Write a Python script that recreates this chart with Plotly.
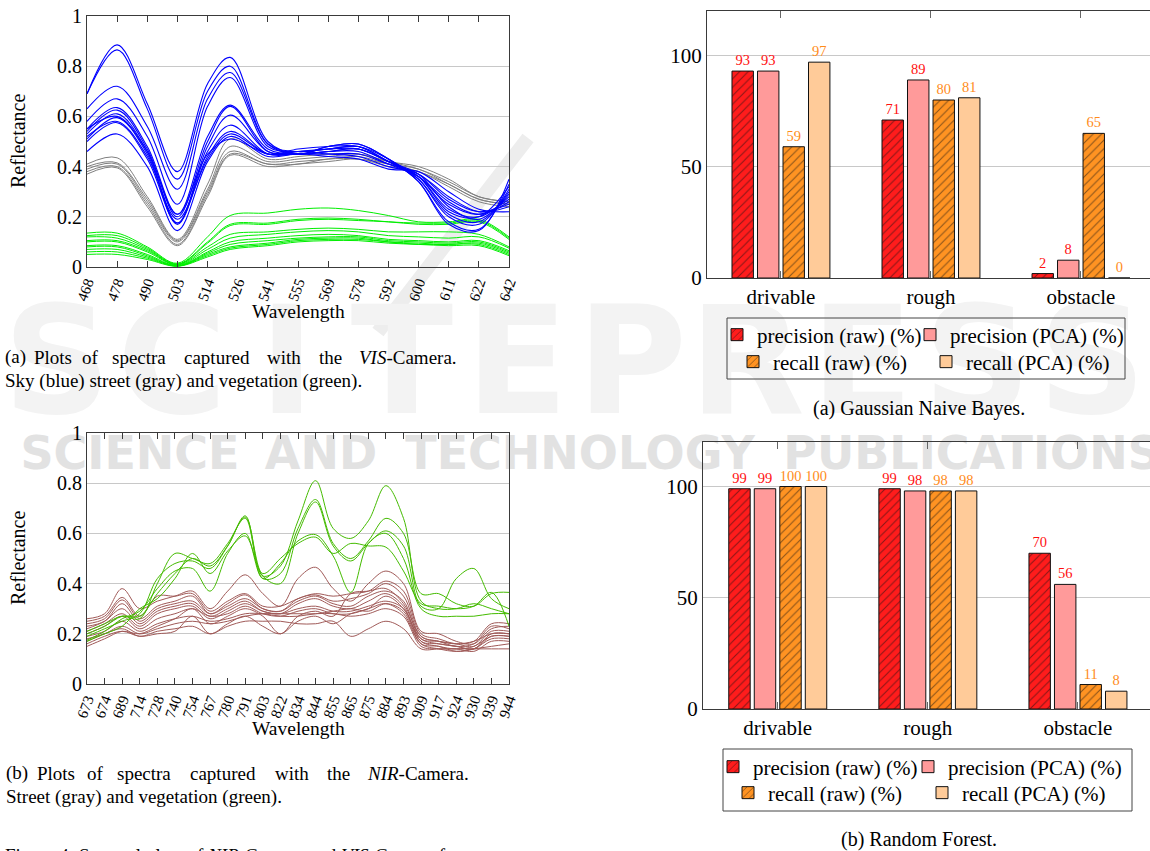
import plotly.graph_objects as go

FONT = "Liberation Serif, Times New Roman, serif"
W, H = 1150, 851

# ---------------- VIS camera spectra ----------------
VIS_TICKS = ["468", "478", "490", "503", "514", "526", "541", "555", "569",
             "578", "592", "600", "611", "622", "642"]
VIS_X = [0, 1, 2, 3, 4, 4.75, 6, 7, 8, 9, 10, 11, 12, 13, 14]

VIS_SKY = [
    [0.69, 0.885, 0.65, 0.38, 0.73, 0.835, 0.50, 0.45, 0.48, 0.49, 0.43, 0.34, 0.17, 0.145, 0.35],
    [0.69, 0.865, 0.63, 0.35, 0.70, 0.80, 0.49, 0.45, 0.48, 0.49, 0.43, 0.34, 0.18, 0.15, 0.33],
    [0.63, 0.72, 0.56, 0.31, 0.67, 0.775, 0.49, 0.46, 0.47, 0.48, 0.43, 0.35, 0.20, 0.17, 0.31],
    [0.58, 0.67, 0.52, 0.25, 0.64, 0.755, 0.48, 0.46, 0.47, 0.48, 0.42, 0.35, 0.21, 0.18, 0.30],
    [0.55, 0.635, 0.48, 0.21, 0.52, 0.645, 0.47, 0.45, 0.46, 0.47, 0.42, 0.36, 0.23, 0.20, 0.28],
    [0.54, 0.625, 0.47, 0.20, 0.50, 0.64, 0.46, 0.45, 0.46, 0.47, 0.42, 0.36, 0.25, 0.21, 0.27],
    [0.53, 0.61, 0.46, 0.175, 0.48, 0.605, 0.46, 0.45, 0.46, 0.46, 0.41, 0.36, 0.26, 0.21, 0.26],
    [0.51, 0.595, 0.45, 0.17, 0.46, 0.565, 0.45, 0.45, 0.45, 0.45, 0.41, 0.37, 0.27, 0.22, 0.25],
    [0.50, 0.575, 0.43, 0.175, 0.44, 0.54, 0.45, 0.46, 0.45, 0.44, 0.40, 0.37, 0.28, 0.22, 0.24],
    [0.46, 0.53, 0.40, 0.145, 0.42, 0.52, 0.44, 0.45, 0.44, 0.43, 0.39, 0.38, 0.30, 0.23, 0.22],
    [0.55, 0.60, 0.46, 0.21, 0.45, 0.51, 0.45, 0.46, 0.47, 0.47, 0.42, 0.37, 0.24, 0.19, 0.29],
    [0.52, 0.58, 0.44, 0.19, 0.43, 0.53, 0.45, 0.47, 0.48, 0.48, 0.42, 0.36, 0.22, 0.20, 0.32],
]
VIS_STREET = [
    [0.41, 0.435, 0.28, 0.11, 0.33, 0.51, 0.43, 0.44, 0.45, 0.45, 0.42, 0.40, 0.35, 0.28, 0.26],
    [0.40, 0.415, 0.27, 0.105, 0.31, 0.48, 0.42, 0.43, 0.44, 0.45, 0.42, 0.39, 0.34, 0.28, 0.26],
    [0.39, 0.41, 0.26, 0.10, 0.30, 0.46, 0.41, 0.42, 0.43, 0.44, 0.41, 0.39, 0.33, 0.27, 0.25],
    [0.38, 0.40, 0.25, 0.09, 0.29, 0.45, 0.41, 0.41, 0.43, 0.43, 0.41, 0.38, 0.33, 0.27, 0.25],
    [0.37, 0.395, 0.24, 0.085, 0.28, 0.445, 0.40, 0.41, 0.42, 0.43, 0.40, 0.38, 0.32, 0.26, 0.24],
]
VIS_VEG = [
    [0.135, 0.135, 0.08, 0.015, 0.12, 0.205, 0.215, 0.23, 0.235, 0.225, 0.205, 0.18, 0.18, 0.19, 0.12],
    [0.125, 0.125, 0.075, 0.012, 0.10, 0.17, 0.175, 0.19, 0.195, 0.19, 0.18, 0.175, 0.175, 0.185, 0.115],
    [0.12, 0.115, 0.07, 0.01, 0.095, 0.165, 0.17, 0.185, 0.19, 0.185, 0.18, 0.17, 0.17, 0.18, 0.11],
    [0.105, 0.105, 0.065, 0.01, 0.08, 0.13, 0.14, 0.15, 0.155, 0.15, 0.14, 0.14, 0.14, 0.13, 0.08],
    [0.10, 0.10, 0.06, 0.008, 0.07, 0.115, 0.13, 0.14, 0.145, 0.14, 0.125, 0.12, 0.115, 0.12, 0.075],
    [0.085, 0.085, 0.05, 0.006, 0.06, 0.10, 0.115, 0.125, 0.13, 0.125, 0.11, 0.105, 0.10, 0.105, 0.065],
    [0.08, 0.08, 0.045, 0.005, 0.055, 0.09, 0.105, 0.115, 0.12, 0.12, 0.105, 0.10, 0.095, 0.10, 0.06],
    [0.07, 0.07, 0.04, 0.004, 0.05, 0.08, 0.095, 0.11, 0.115, 0.115, 0.10, 0.095, 0.09, 0.095, 0.055],
    [0.06, 0.06, 0.035, 0.004, 0.045, 0.075, 0.09, 0.105, 0.11, 0.11, 0.10, 0.09, 0.09, 0.09, 0.05],
    [0.05, 0.05, 0.03, 0.003, 0.04, 0.07, 0.085, 0.10, 0.105, 0.105, 0.095, 0.09, 0.085, 0.085, 0.045],
]

# ---------------- NIR camera spectra ----------------
NIR_TICKS = ["673", "674", "689", "714", "728", "740", "754", "767", "780", "791",
             "803", "822", "834", "844", "855", "865", "875", "884", "893", "909",
             "917", "924", "930", "939", "944"]
NIR_X = list(range(25))

NIR_VEG = [
    [0.20, 0.23, 0.27, 0.27, 0.36, 0.44, 0.50, 0.47, 0.55, 0.67, 0.43, 0.47, 0.65, 0.81, 0.62,
     0.58, 0.65, 0.79, 0.66, 0.33, 0.30, 0.30, 0.32, 0.30, 0.28],
    [0.21, 0.24, 0.27, 0.26, 0.40, 0.52, 0.50, 0.48, 0.56, 0.66, 0.42, 0.44, 0.62, 0.735, 0.56,
     0.50, 0.57, 0.66, 0.60, 0.36, 0.36, 0.32, 0.31, 0.36, 0.365],
    [0.19, 0.22, 0.25, 0.28, 0.42, 0.48, 0.49, 0.46, 0.55, 0.665, 0.43, 0.40, 0.60, 0.725, 0.55,
     0.49, 0.56, 0.61, 0.55, 0.31, 0.30, 0.42, 0.46, 0.34, 0.30],
    [0.175, 0.21, 0.26, 0.29, 0.38, 0.45, 0.46, 0.37, 0.52, 0.60, 0.42, 0.48, 0.57, 0.595, 0.51,
     0.365, 0.56, 0.60, 0.50, 0.30, 0.27, 0.27, 0.27, 0.28, 0.28],
    [0.17, 0.20, 0.23, 0.30, 0.34, 0.42, 0.52, 0.44, 0.53, 0.59, 0.44, 0.50, 0.56, 0.585, 0.52,
     0.56, 0.55, 0.545, 0.45, 0.32, 0.31, 0.30, 0.31, 0.365, 0.23],
]
NIR_STREET = [
    [0.26, 0.28, 0.38, 0.30, 0.33, 0.35, 0.37, 0.30, 0.37, 0.435, 0.36, 0.31, 0.42, 0.465, 0.38,
     0.33, 0.40, 0.45, 0.40, 0.21, 0.20, 0.17, 0.16, 0.22, 0.23],
    [0.25, 0.27, 0.345, 0.27, 0.35, 0.35, 0.36, 0.29, 0.33, 0.36, 0.31, 0.31, 0.34, 0.36, 0.35,
     0.36, 0.37, 0.41, 0.37, 0.20, 0.18, 0.16, 0.17, 0.24, 0.24],
    [0.24, 0.26, 0.335, 0.26, 0.31, 0.33, 0.35, 0.28, 0.32, 0.355, 0.30, 0.29, 0.34, 0.355, 0.33,
     0.34, 0.36, 0.40, 0.35, 0.19, 0.17, 0.15, 0.16, 0.23, 0.22],
    [0.23, 0.25, 0.32, 0.25, 0.30, 0.32, 0.33, 0.28, 0.31, 0.34, 0.30, 0.29, 0.33, 0.35, 0.32,
     0.31, 0.35, 0.37, 0.33, 0.18, 0.17, 0.16, 0.15, 0.21, 0.21],
    [0.22, 0.25, 0.30, 0.24, 0.29, 0.31, 0.32, 0.27, 0.30, 0.33, 0.29, 0.28, 0.32, 0.34, 0.31,
     0.30, 0.33, 0.36, 0.31, 0.17, 0.16, 0.15, 0.14, 0.20, 0.20],
    [0.21, 0.24, 0.28, 0.23, 0.28, 0.30, 0.31, 0.26, 0.29, 0.32, 0.29, 0.28, 0.30, 0.31, 0.29,
     0.29, 0.31, 0.33, 0.30, 0.17, 0.15, 0.14, 0.15, 0.19, 0.19],
    [0.20, 0.23, 0.27, 0.22, 0.26, 0.28, 0.30, 0.27, 0.28, 0.31, 0.28, 0.27, 0.29, 0.30, 0.28,
     0.28, 0.30, 0.32, 0.28, 0.16, 0.15, 0.13, 0.14, 0.18, 0.18],
    [0.19, 0.21, 0.25, 0.21, 0.24, 0.26, 0.27, 0.25, 0.26, 0.28, 0.28, 0.27, 0.27, 0.28, 0.28,
     0.27, 0.28, 0.30, 0.27, 0.15, 0.14, 0.14, 0.13, 0.17, 0.17],
    [0.18, 0.20, 0.23, 0.20, 0.22, 0.24, 0.25, 0.24, 0.25, 0.27, 0.28, 0.28, 0.28, 0.28, 0.29,
     0.30, 0.29, 0.32, 0.29, 0.16, 0.14, 0.13, 0.14, 0.15, 0.16],
    [0.17, 0.20, 0.22, 0.19, 0.21, 0.22, 0.23, 0.20, 0.23, 0.25, 0.25, 0.25, 0.24, 0.24, 0.25,
     0.19, 0.22, 0.25, 0.22, 0.14, 0.14, 0.14, 0.14, 0.14, 0.14],
    [0.16, 0.19, 0.21, 0.19, 0.20, 0.21, 0.27, 0.20, 0.24, 0.27, 0.23, 0.20, 0.25, 0.27, 0.24,
     0.28, 0.30, 0.35, 0.30, 0.18, 0.16, 0.15, 0.14, 0.19, 0.19],
    [0.15, 0.18, 0.21, 0.20, 0.23, 0.26, 0.30, 0.24, 0.27, 0.30, 0.27, 0.20, 0.27, 0.29, 0.27,
     0.36, 0.37, 0.38, 0.32, 0.19, 0.17, 0.16, 0.17, 0.20, 0.20],
]

# ---------------- Classifier scores ----------------
CLASSES = ["drivable", "rough", "obstacle"]
SERIES = ["precision (raw) (%)", "precision (PCA) (%)", "recall (raw) (%)", "recall (PCA) (%)"]
GNB_PREC_RAW = [93, 71, 2]
GNB_PREC_PCA = [93, 89, 8]
GNB_REC_RAW = [59, 80, 65]
GNB_REC_PCA = [97, 81, 0]
RF_PREC_RAW = [99, 99, 70]
RF_PREC_PCA = [99, 98, 56]
RF_REC_RAW = [100, 98, 11]
RF_REC_PCA = [100, 98, 8]

BAR_FILL = ["#ff1c1c", "#ff9a9a", "#ff9322", "#ffcb99"]
BAR_PATTERN = ["/", "", "/", ""]
TEXT_COL = ["#ff1010", "#ff1010", "#ff8c1a", "#ff8c1a"]


def px(x):
    return x / W


def py(y):
    return 1 - y / H


fig = go.Figure()

# VIS lines
for vals in VIS_VEG:
    fig.add_trace(go.Scatter(x=VIS_X, y=vals, mode="lines", xaxis="x", yaxis="y",
                             line=dict(color="#00ee00", width=1, shape="spline", smoothing=1.0),
                             showlegend=False, hoverinfo="skip"))
for vals in VIS_STREET:
    fig.add_trace(go.Scatter(x=VIS_X, y=vals, mode="lines", xaxis="x", yaxis="y",
                             line=dict(color="#7f7f7f", width=1, shape="spline", smoothing=1.0),
                             showlegend=False, hoverinfo="skip"))
for vals in VIS_SKY:
    fig.add_trace(go.Scatter(x=VIS_X, y=vals, mode="lines", xaxis="x", yaxis="y",
                             line=dict(color="#0000ff", width=1.1, shape="spline", smoothing=1.0),
                             showlegend=False, hoverinfo="skip"))

# NIR lines
for vals in NIR_STREET:
    fig.add_trace(go.Scatter(x=NIR_X, y=vals, mode="lines", xaxis="x2", yaxis="y2",
                             line=dict(color="#a05a58", width=1, shape="spline", smoothing=1.0),
                             showlegend=False, hoverinfo="skip"))
for vals in NIR_VEG:
    fig.add_trace(go.Scatter(x=NIR_X, y=vals, mode="lines", xaxis="x2", yaxis="y2",
                             line=dict(color="#44bb00", width=1, shape="spline", smoothing=1.0),
                             showlegend=False, hoverinfo="skip"))

# Bars (each series in its own one-item legend so items can be placed like the original)
groups = [
    ("x3", "y3", 1, [GNB_PREC_RAW, GNB_PREC_PCA, GNB_REC_RAW, GNB_REC_PCA]),
    ("x4", "y4", 5, [RF_PREC_RAW, RF_PREC_PCA, RF_REC_RAW, RF_REC_PCA]),
]
for xa, ya, leg0, data in groups:
    for i, vals in enumerate(data):
        n = leg0 + i
        leg = "legend" if n == 1 else "legend%d" % n
        fig.add_trace(go.Bar(
            x=CLASSES, y=vals, name=SERIES[i], xaxis=xa, yaxis=ya, legend=leg,
            marker=dict(color=BAR_FILL[i], line=dict(color="#111111", width=1),
                        pattern=dict(shape=BAR_PATTERN[i], fgcolor="#111111",
                                     bgcolor=BAR_FILL[i], size=6, solidity=0.18)),
            text=[str(v) for v in vals], textposition="outside", constraintext="none",
            textfont=dict(color=TEXT_COL[i], size=14.5, family=FONT),
            cliponaxis=False, hoverinfo="skip"))

frame = "#3a3a3a"
grid = "#c8c8c8"

line_x = dict(range=[0, 14], tickmode="array", ticks="inside", ticklen=6, tickcolor=frame,
              showline=True, linecolor=frame, linewidth=1, mirror="ticks", showgrid=False,
              zeroline=False, tickangle=-70, automargin=False,
              tickfont=dict(family=FONT, size=15, color="black"))
line_y = dict(range=[0, 1], tickmode="array", tickvals=[0, 0.2, 0.4, 0.6, 0.8, 1],
              ticktext=["0", "0.2", "0.4", "0.6", "0.8", "1"], showgrid=True, gridcolor=grid,
              showline=True, linecolor=frame, linewidth=1, mirror=True, zeroline=False,
              ticks="", automargin=False, tickfont=dict(family=FONT, size=20, color="black"))

bar_x = dict(type="category", ticks="inside", ticklen=7, tickcolor="#666", showline=True,
             linecolor=frame, linewidth=1, mirror="ticks", showgrid=False, zeroline=False,
             automargin=False, tickfont=dict(family=FONT, size=21, color="black"))
bar_y = dict(range=[0, 120], tickmode="array", tickvals=[0, 50, 100], showgrid=True,
             gridcolor=grid, showline=True, linecolor=frame, linewidth=1, mirror=True,
             zeroline=False, ticks="", automargin=False,
             tickfont=dict(family=FONT, size=21, color="black"))

layout = dict(
    width=W, height=H, margin=dict(l=0, r=0, t=0, b=0, autoexpand=False),
    paper_bgcolor="white", plot_bgcolor="rgba(0,0,0,0)",
    font=dict(family=FONT, color="black"),
    barmode="group", bargap=0.32, bargroupgap=0.16,
    xaxis=dict(line_x, domain=[px(87), px(509)], anchor="y",
               tickvals=list(range(15)), ticktext=VIS_TICKS),
    yaxis=dict(line_y, domain=[py(267), py(16)], anchor="x"),
    xaxis2=dict(line_x, domain=[px(87), px(509)], anchor="y2", range=[0, 24],
                tickvals=NIR_X, ticktext=NIR_TICKS),
    yaxis2=dict(line_y, domain=[py(684), py(433)], anchor="x2"),
    xaxis3=dict(bar_x, domain=[px(707), 1.0], anchor="y3", range=[-0.493, 2.46]),
    yaxis3=dict(bar_y, domain=[py(278), py(11)], anchor="x3"),
    xaxis4=dict(bar_x, domain=[px(703), 1.0], anchor="y4", range=[-0.498, 2.48]),
    yaxis4=dict(bar_y, domain=[py(709), py(442)], anchor="x4"),
)

# legend item positions: (text start x, row centre y)
LEG_POS = [(757, 335), (950, 335), (773, 362), (966, 362),
           (753, 767), (948, 767), (768, 793), (962, 793)]
for k, (tx, ty) in enumerate(LEG_POS):
    key = "legend" if k == 0 else "legend%d" % (k + 1)
    layout[key] = dict(x=px(tx - 40), y=py(ty), xanchor="left", yanchor="middle",
                       bgcolor="rgba(0,0,0,0)", borderwidth=0, itemwidth=30,
                       font=dict(family=FONT, size=21, color="black"))
fig.update_layout(**layout)

shapes = [
    dict(type="rect", xref="paper", yref="paper", x0=px(727), x1=px(1125), y0=py(379), y1=py(318),
         line=dict(color="#444", width=1), fillcolor="rgba(0,0,0,0)", layer="above"),
    dict(type="rect", xref="paper", yref="paper", x0=px(723), x1=px(1132), y0=py(811), y1=py(749),
         line=dict(color="#444", width=1), fillcolor="rgba(0,0,0,0)", layer="above"),
    # faint diagonal stroke of the publisher logo
    dict(type="line", xref="paper", yref="paper", x0=px(378), y0=py(332), x1=px(528), y1=py(138),
         line=dict(color="#ededed", width=14), layer="below"),
]


def watermark(cx, cy, w, h, s, size, color):
    shapes.append(dict(type="rect", xref="paper", yref="paper",
                       x0=px(cx - w / 2), x1=px(cx + w / 2), y0=py(cy + h / 2), y1=py(cy - h / 2),
                       line=dict(width=0), fillcolor="rgba(0,0,0,0)", layer="below",
                       label=dict(text="<b>%s</b>" % s, textposition="middle center",
                                  font=dict(family="DejaVu Sans", size=size, color=color))))


# faint publisher watermark behind the charts
for i, letter in enumerate("SCITEPRESS"):
    watermark(57 + 115 * i, 350, 115, 130, letter, 150, "#f3f3f3")
for cx, word in [(130, "SCIENCE"), (321, "AND"), (580, "TECHNOLOGY"), (972, "PUBLICATIONS")]:
    watermark(cx, 450, 420, 44, word, 46, "#e2e2e2")

ann = []


def text(x, y, s, size=19, xanchor="left", angle=0):
    ann.append(dict(x=px(x), y=py(y), xref="paper", yref="paper", text=s, showarrow=False,
                    xanchor=xanchor, yanchor="middle", textangle=angle,
                    font=dict(family=FONT, size=size, color="black")))


# axis titles
text(298, 311, "Wavelength", 19.5, "center")
text(298, 728, "Wavelength", 19.5, "center")
text(18, 141, "Reflectance", 20, "center", -90)
text(18, 558, "Reflectance", 20, "center", -90)

# justified first caption lines (word positions)
cap_a = [(3, "(a)"), (32, "Plots"), (80, "of"), (110, "spectra"), (182, "captured"),
         (265, "with"), (317, "the"), (357, "<i>VIS</i>-Camera.")]
for x, w in cap_a:
    text(x, 357, w)
text(3, 381, "Sky (blue) street (gray) and vegetation (green).")

cap_b = [(4, "(b)"), (35, "Plots"), (85, "of"), (115, "spectra"), (188, "captured"),
         (273, "with"), (325, "the"), (365, "<i>NIR</i>-Camera.")]
for x, w in cap_b:
    text(x, 773, w)
text(4, 797, "Street (gray) and vegetation (green).")

text(919, 408, "(a) Gaussian Naive Bayes.", 20, "center")
text(919, 839, "(b) Random Forest.", 20, "center")
text(3, 855, "Figure 4: Spectral plots of <i>NIR</i>-Camera and <i>VIS</i>-Camera f", 19)

fig.update_layout(annotations=ann, shapes=shapes)

fig.write_html("out.html", config={"displayModeBar": False},
               post_script="document.body.style.margin='0px';document.body.style.padding='0px';")
